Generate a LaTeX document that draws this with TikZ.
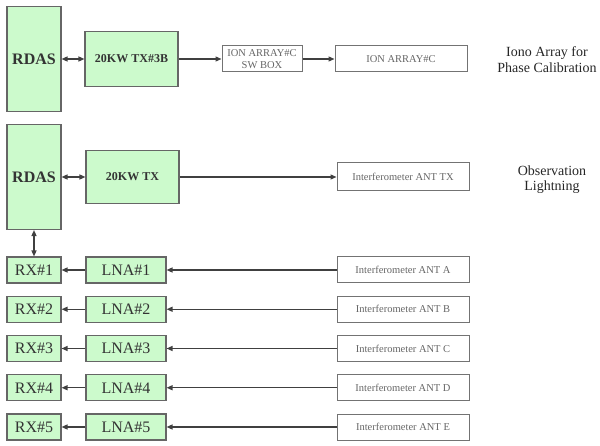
\documentclass[tikz,border=0pt]{standalone}
\usepackage{fontspec}
\setmainfont{Liberation Serif}
\usetikzlibrary{arrows.meta}
\definecolor{boxgreen}{RGB}{204,250,204}
\begin{document}
\begin{tikzpicture}[x=1pt, y=-1pt,
  gbox/.style={draw=black!60, line width=1.1pt, fill=boxgreen, text=black!80, inner sep=0pt},
  wbox/.style={draw=black!55, line width=1pt, fill=white, text=black!60, inner sep=0pt,
    align=center, font=\fontsize{10.5}{12}\selectfont},
  note/.style={text=black!85, align=center, font=\fontsize{14}{15.5}\selectfont},
  link/.style={draw=black!75, line width=1.3pt},
  onearrow/.style={-{Triangle[length=6pt,width=5pt]}},
  twoarrow/.style={{Triangle[length=6pt,width=5pt]}-{Triangle[length=6pt,width=5pt]}}]
\useasboundingbox (0,0) rectangle (600,446);
% top group: ionospheric array
\node[gbox, minimum width=54pt, minimum height=105pt, font=\bfseries\fontsize{16}{18}\selectfont] (rdasA) at (34,59) {RDAS};
\node[gbox, minimum width=93pt, minimum height=55pt, font=\bfseries\fontsize{12}{14}\selectfont] (txA) at (131.5,59) {20KW TX\#3B};
\node[wbox, minimum width=80pt, minimum height=26pt] (swbox) at (262,59) {ION ARRAY\#C\\SW BOX};
\node[wbox, minimum width=132pt, minimum height=26pt] (ionC) at (401,59) {ION ARRAY\#C};
\node[note] (iono) at (547,59.5) {Iono Array for\\Phase Calibration};
\draw[link, twoarrow] (rdasA) -- (txA);
\draw[link, onearrow] (txA) -- (swbox);
\draw[link, onearrow] (swbox) -- (ionC);
% middle group: interferometer transmit
\node[gbox, minimum width=54pt, minimum height=105pt, font=\bfseries\fontsize{16}{18}\selectfont] (rdasB) at (34,177) {RDAS};
\node[gbox, minimum width=93pt, minimum height=53pt, font=\bfseries\fontsize{12}{14}\selectfont] (txB) at (132.5,177) {20KW TX};
\node[wbox, minimum width=132pt, minimum height=28pt] (antTX) at (403,177) {Interferometer ANT TX};
\node[note] (obs) at (552,179.5) {Observation\\Lightning};
\draw[link, twoarrow] (rdasB) -- (txB);
\draw[link, onearrow] (txB) -- (antTX);
% receive chains A..E
\foreach \i/\a in {1/A, 2/B, 3/C, 4/D, 5/E} {
  \pgfmathsetmacro\ry{270+(\i-1)*39.25}
  \node[gbox, minimum width=54pt, minimum height=26pt, font=\fontsize{16}{18}\selectfont] (rx\i) at (34,\ry) {RX\#\i};
  \node[gbox, minimum width=80pt, minimum height=26pt, font=\fontsize{16}{18}\selectfont] (lna\i) at (126,\ry) {LNA\#\i};
  \node[wbox, minimum width=132pt, minimum height=26pt] (ant\i) at (403,\ry) {Interferometer ANT \a};
  \draw[link, onearrow] (ant\i) -- (lna\i);
  \draw[link, onearrow] (lna\i) -- (rx\i);
}
\draw[link, twoarrow] (rdasB) -- (rx1);
\end{tikzpicture}
\end{document}
